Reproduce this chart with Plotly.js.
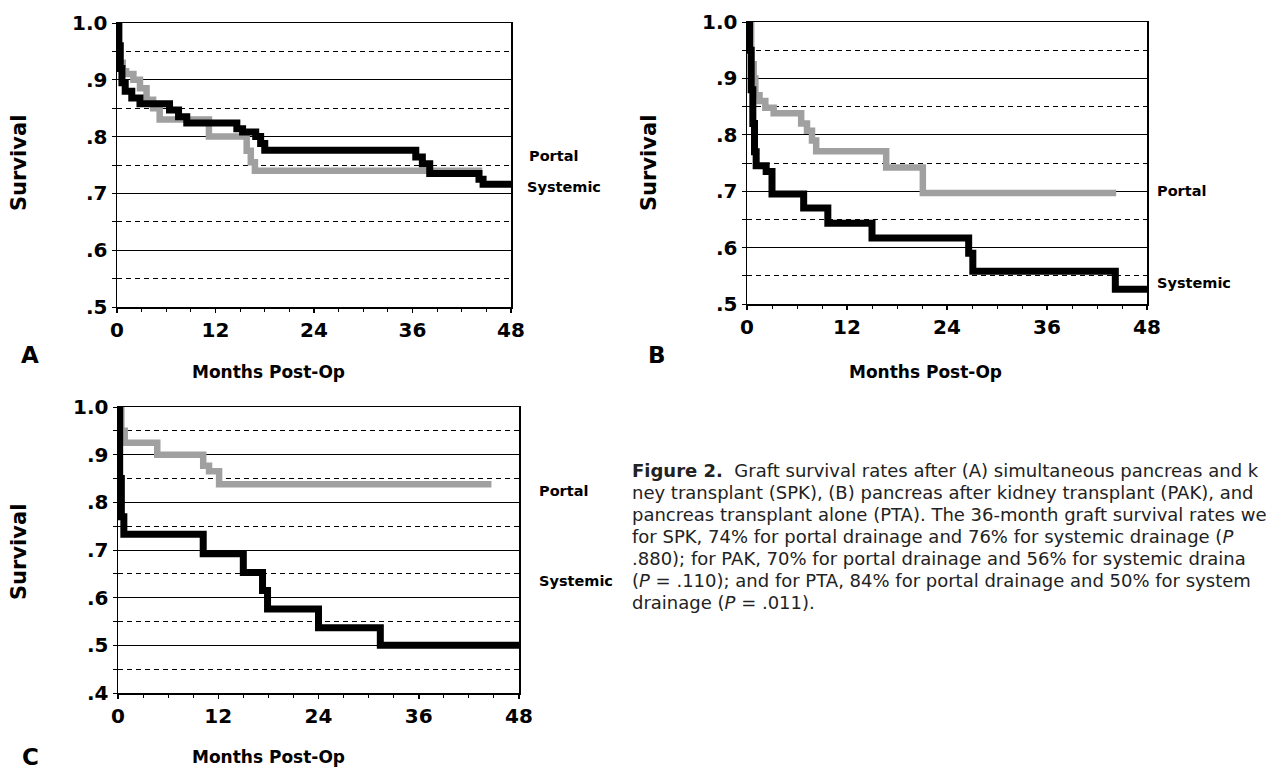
<!DOCTYPE html>
<html>
<head>
<meta charset="utf-8">
<script src="https://cdn.plot.ly/plotly-3.0.1.min.js"></script>
<style>
html,body{margin:0;padding:0;background:#fff;overflow:hidden;}
#chart{width:1271px;height:770px;}
</style>
</head>
<body>
<div id="chart"></div>
<script>
// ---------------- data ----------------
// Panel A: SPK
const monthsA_portal = [0, 0.3, 0.7, 1.1, 2.0, 2.8, 3.6, 4.4, 5.2, 11.2, 15.8, 16.3, 16.8, 44.5];
const survA_portal   = [1.0, 0.93, 0.915, 0.91, 0.9, 0.885, 0.865, 0.85, 0.83, 0.80, 0.775, 0.755, 0.74, 0.74];
const monthsA_sys = [0, 0.2, 0.4, 0.6, 1.0, 1.8, 2.8, 6.4, 7.5, 8.5, 14.6, 15.3, 16.9, 17.5, 18.0, 36.4, 37.2, 38.1, 44.1, 44.6, 48];
const survA_sys   = [1.0, 0.96, 0.92, 0.895, 0.88, 0.868, 0.858, 0.847, 0.835, 0.824, 0.814, 0.808, 0.80, 0.788, 0.776, 0.764, 0.752, 0.735, 0.725, 0.716, 0.716];
// Panel B: PAK
const monthsB_portal = [0, 0.5, 0.8, 1.0, 1.5, 2.2, 3.2, 6.5, 7.2, 7.8, 8.3, 16.7, 21.1, 44.3];
const survB_portal   = [1.0, 0.925, 0.9, 0.87, 0.86, 0.848, 0.838, 0.82, 0.807, 0.79, 0.771, 0.742, 0.697, 0.697];
const monthsB_sys = [0, 0.3, 0.5, 0.7, 0.9, 1.1, 2.3, 3.0, 6.8, 9.7, 15.0, 26.6, 27.1, 44.2, 48];
const survB_sys   = [1.0, 0.95, 0.88, 0.82, 0.77, 0.745, 0.735, 0.695, 0.67, 0.643, 0.617, 0.59, 0.558, 0.526, 0.526];
// Panel C: PTA
const monthsC_portal = [0, 0.4, 0.8, 4.7, 10.2, 10.9, 12.1, 44.7];
const survC_portal   = [1.0, 0.95, 0.925, 0.9, 0.877, 0.865, 0.838, 0.838];
const monthsC_sys = [0, 0.2, 0.4, 0.7, 10.2, 15.0, 17.3, 17.9, 24.0, 31.4, 48];
const survC_sys   = [1.0, 0.85, 0.77, 0.733, 0.692, 0.653, 0.615, 0.576, 0.537, 0.50, 0.50];

// axis ticks
const xTickVals = [0, 12, 24, 36, 48];
const xMinorVals = [3, 6, 9, 15, 18, 21, 27, 30, 33, 39, 42, 45];
const yTickValsAB = [0.5, 0.6, 0.7, 0.8, 0.9, 1.0];
const yTickTextAB = ['.5', '.6', '.7', '.8', '.9', '1.0'];
const yMinorAB = [0.55, 0.65, 0.75, 0.85, 0.95];
const yTickValsC = [0.4, 0.5, 0.6, 0.7, 0.8, 0.9, 1.0];
const yTickTextC = ['.4', '.5', '.6', '.7', '.8', '.9', '1.0'];
const yMinorC = [0.45, 0.55, 0.65, 0.75, 0.85, 0.95];

const seriesNames = ['Portal', 'Systemic'];
const xTitle = 'Months Post-Op';
const yTitle = 'Survival';
const panelLetters = ['A', 'B', 'C'];
// caption as visible in the reference (cut at the right edge of the page)
const captionLines = [
  '<b>Figure 2.</b>  Graft survival rates after (A) simultaneous pancreas and k',
  'ney transplant (SPK), (B) pancreas after kidney transplant (PAK), and',
  'pancreas transplant alone (PTA). The 36-month graft survival rates we',
  'for SPK, 74% for portal drainage and 76% for systemic drainage (<i>P</i>',
  '.880); for PAK, 70% for portal drainage and 56% for systemic draina',
  '(<i>P</i> = .110); and for PTA, 84% for portal drainage and 50% for system',
  'drainage (<i>P</i> = .011).'
];

// ---------------- layout helpers ----------------
const W = 1271, H = 770;
const BOLD = 'DejaVu Sans, Liberation Sans, Arial, sans-serif';
const px = x => x / W;
const py = y => 1 - y / H;

function xax(x0, x1, anchor) {
  return {
    domain: [px(x0), px(x1)], anchor: anchor, range: [0, 48],
    tickmode: 'array', tickvals: xTickVals,
    ticks: 'outside', ticklen: 4, tickwidth: 1.5, tickcolor: '#000',
    showline: true, linecolor: '#000', linewidth: 1.5, mirror: true,
    showgrid: false, zeroline: false,
    tickfont: {family: BOLD, size: 20, weight: 'bold', color: '#000'},
    minor: {tickmode: 'array', tickvals: xMinorVals, ticks: 'outside', ticklen: 3, tickwidth: 1, tickcolor: '#000', showgrid: false},
    fixedrange: true
  };
}
function yax(y0, y1, anchor, rng, vals, text, minorVals) {
  return {
    domain: [py(y1), py(y0)], anchor: anchor, range: rng,
    tickmode: 'array', tickvals: vals, ticktext: text,
    ticks: 'outside', ticklen: 4, tickwidth: 1, tickcolor: '#000',
    showline: true, linecolor: '#000', linewidth: 1.5, mirror: true,
    showgrid: true, gridcolor: '#000', gridwidth: 1, zeroline: false,
    tickfont: {family: BOLD, size: 20, weight: 'bold', color: '#000'},
    minor: {tickmode: 'array', tickvals: minorVals, ticks: 'outside', ticklen: 4, tickwidth: 1, tickcolor: '#000',
            showgrid: true, gridcolor: '#000', gridwidth: 1, griddash: '5px,4px'},
    fixedrange: true
  };
}

const GRAY = '#a0a0a0';
function tr(x, y, xa, ya, color, width, name) {
  return {x: x, y: y, xaxis: xa, yaxis: ya, type: 'scatter', mode: 'lines', name: name,
          line: {shape: 'hv', color: color, width: width}, hoverinfo: 'skip'};
}

const data = [
  tr(monthsA_portal, survA_portal, 'x', 'y', GRAY, 6.5, seriesNames[0]),
  tr(monthsA_sys, survA_sys, 'x', 'y', '#000', 7, seriesNames[1]),
  tr(monthsB_portal, survB_portal, 'x2', 'y2', GRAY, 6.5, seriesNames[0]),
  tr(monthsB_sys, survB_sys, 'x2', 'y2', '#000', 7, seriesNames[1]),
  tr(monthsC_portal, survC_portal, 'x3', 'y3', GRAY, 6.5, seriesNames[0]),
  tr(monthsC_sys, survC_sys, 'x3', 'y3', '#000', 7, seriesNames[1])
];

function label(text, x, y, size, opts) {
  return Object.assign({text: text, x: px(x), y: py(y), xref: 'paper', yref: 'paper',
    xanchor: 'center', yanchor: 'middle',
    showarrow: false, font: {family: BOLD, size: size, weight: 'bold', color: '#000'}}, opts || {});
}

const annotations = [
  // series labels
  label(seriesNames[0], 527, 156, 14.5, {xanchor: 'left'}),
  label(seriesNames[1], 525, 187, 14.5, {xanchor: 'left'}),
  label(seriesNames[0], 1155, 191, 14.5, {xanchor: 'left'}),
  label(seriesNames[1], 1155, 283, 14.5, {xanchor: 'left'}),
  label(seriesNames[0], 537, 491, 14.5, {xanchor: 'left'}),
  label(seriesNames[1], 537, 581, 14.5, {xanchor: 'left'}),
  // axis titles
  label(yTitle, 19, 163, 21, {textangle: -90}),
  label(yTitle, 649, 163, 21, {textangle: -90}),
  label(yTitle, 19, 552, 21, {textangle: -90}),
  label(xTitle, 268, 372, 17),
  label(xTitle, 925, 372, 17),
  label(xTitle, 268, 757, 17),
  // panel letters
  label(panelLetters[0], 30, 355, 23),
  label(panelLetters[1], 657, 355, 23),
  label(panelLetters[2], 30, 757, 23)
];
captionLines.forEach((t, i) => {
  annotations.push({text: t, x: px(630), y: py(470 + 22 * i), xref: 'paper', yref: 'paper',
    xanchor: 'left', yanchor: 'middle', align: 'left', showarrow: false,
    font: {family: 'DejaVu Sans, sans-serif', size: 18, color: '#222'}});
});

const layout = {
  width: W, height: H, margin: {l: 0, r: 0, t: 0, b: 0},
  paper_bgcolor: '#fff', plot_bgcolor: '#fff', showlegend: false,
  xaxis: xax(117, 511, 'y'),
  yaxis: yax(23, 307, 'x', [0.5, 1.0], yTickValsAB, yTickTextAB, yMinorAB),
  xaxis2: xax(747, 1147, 'y2'),
  yaxis2: yax(22, 304, 'x2', [0.5, 1.0], yTickValsAB, yTickTextAB, yMinorAB),
  xaxis3: xax(118, 519, 'y3'),
  yaxis3: yax(407, 693, 'x3', [0.4, 1.0], yTickValsC, yTickTextC, yMinorC),
  annotations: annotations
};

Plotly.newPlot('chart', data, layout, {staticPlot: true, displayModeBar: false});
</script>
</body>
</html>
